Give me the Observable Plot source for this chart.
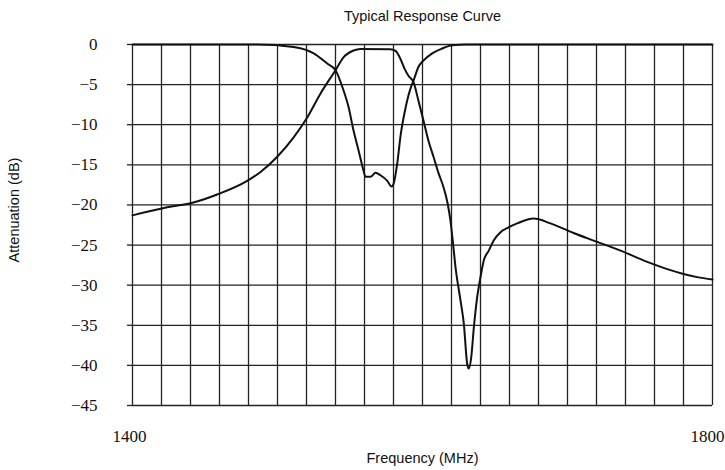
<!DOCTYPE html>
<html>
<head>
<meta charset="utf-8">
<script src="https://cdn.jsdelivr.net/npm/d3@7"></script>
<script src="https://cdn.jsdelivr.net/npm/@observablehq/plot@0.6"></script>
<style>
  html, body { margin: 0; padding: 0; background: #fff; }
</style>
</head>
<body>
<div id="chart"></div>
<script>
// Curve A: passes at 0 dB, notches around 1560–1580 MHz
const freqA = [1400, 1486, 1511, 1525, 1534.5, 1540, 1545.5, 1549, 1552.4, 1555.9, 1559.3, 1560.7, 1564.1, 1567.6, 1571, 1575.7, 1578.6, 1580, 1582.6, 1585.0, 1587.4, 1589.4, 1591.7, 1593.8, 1597.2, 1600.7, 1606.7, 1613.6, 1620.5, 1630, 1800];
const attA  = [0, 0, -0.3, -1.1, -2.4, -3.2, -5.7, -7.8, -10.7, -13.2, -15.7, -16.5, -16.5, -16.0, -16.3, -17.0, -17.7, -17.4, -14.8, -11.2, -8.7, -7.0, -5.5, -4.5, -2.8, -2.0, -1.1, -0.5, -0.1, 0, 0];

// Curve B: bandpass around 1555–1580 MHz with notch near 1632 MHz
const freqB = [1400, 1423.9, 1442, 1458.4, 1479.1, 1488.3, 1499.8, 1511, 1520.5, 1529.7, 1540, 1545.5, 1552.4, 1557.2, 1577.9, 1581.4, 1584.8, 1587.6, 1590.3, 1593.8, 1597.2, 1600.7, 1604.1, 1607.6, 1611.0, 1614.5, 1617.2, 1619.3, 1620.7, 1622.8, 1626.2, 1628.5, 1630.8, 1631.9, 1633.6, 1635.4, 1637.7, 1640, 1642.3, 1645.7, 1649.2, 1653.8, 1659.3, 1665.3, 1676.6, 1688.3, 1704.1, 1720.5, 1736.6, 1755, 1768.8, 1780, 1789.4, 1800];
const attB  = [-21.3, -20.3, -19.7, -18.7, -17.0, -15.9, -14.0, -11.6, -9.1, -6.1, -3.2, -1.6, -0.75, -0.55, -0.6, -0.8, -1.8, -3.0, -3.9, -4.7, -7.0, -9.5, -12.0, -14.0, -16.0, -17.8, -19.7, -22.0, -24.2, -27.8, -31.9, -34.8, -39.8, -40.4, -39.0, -35.3, -31.5, -29.0, -26.9, -25.7, -24.4, -23.4, -22.8, -22.3, -21.7, -22.3, -23.5, -24.6, -25.7, -27.1, -28.0, -28.6, -29.0, -29.3];

const yTicks = [0, -5, -10, -15, -20, -25, -30, -35, -40, -45];
const xTickLabels = [1400, 1800];
const xGrid = [1400, 1420, 1440, 1460, 1480, 1500, 1520, 1540, 1560, 1580, 1600, 1620, 1640, 1660, 1680, 1700, 1720, 1740, 1760, 1780, 1800];

const title = "Typical Response Curve";
const xLabel = "Frequency (MHz)";
const yLabel = "Attenuation (dB)";

const dataA = freqA.map((f, i) => ({f, a: attA[i]}));
const dataB = freqB.map((f, i) => ({f, a: attB[i]}));

const ink = "#111";
const sans = "Liberation Sans, Arial, sans-serif";
const serif = "Liberation Serif, Times New Roman, serif";

const chart = Plot.plot({
  width: 725,
  height: 470,
  marginLeft: 132,
  marginRight: 13,
  marginTop: 44,
  marginBottom: 65,
  x: {domain: [1400, 1800], axis: null},
  y: {domain: [-45, 0]},
  style: {fontFamily: serif, fontSize: "17px", color: ink, background: "#fff"},
  marks: [
    Plot.ruleX(xGrid, {stroke: "#222", strokeWidth: 1.3, strokeOpacity: 1}),
    Plot.ruleY(yTicks, {stroke: "#222", strokeWidth: 1.3, strokeOpacity: 1}),
    Plot.axisY({ticks: yTicks, tickSize: 5, tickPadding: 30, tickFormat: d => d === 0 ? "0" : "\u2212" + (-d), label: null, stroke: "#222", strokeWidth: 1.3, fontSize: 17, fontFamily: serif}),
    Plot.text(xTickLabels.slice(0, 1), {x: d => d, frameAnchor: "bottom", dy: 31, dx: -3, lineAnchor: "middle", textAnchor: "middle", text: d => String(d), fontFamily: serif, fontSize: 17, fill: ink}),
    Plot.text(xTickLabels.slice(1), {x: d => d, frameAnchor: "bottom", dy: 31, dx: 12, lineAnchor: "middle", textAnchor: "end", text: d => String(d), fontFamily: serif, fontSize: 17, fill: ink}),
    Plot.line(dataA, {x: "f", y: "a", stroke: ink, strokeWidth: 2, curve: "monotone-x"}),
    Plot.line(dataB, {x: "f", y: "a", stroke: ink, strokeWidth: 2, curve: "monotone-x"}),
    Plot.text([title], {frameAnchor: "top", dy: -28, lineAnchor: "middle", text: d => d, fontFamily: sans, fontSize: 14.5, fill: ink}),
    Plot.text([xLabel], {frameAnchor: "bottom", dy: 53, lineAnchor: "middle", text: d => d, fontFamily: sans, fontSize: 14.5, fill: ink}),
    Plot.text([yLabel], {frameAnchor: "left", dx: -118, dy: -15, rotate: -90, lineAnchor: "middle", textAnchor: "middle", text: d => d, fontFamily: sans, fontSize: 14.5, fill: ink})
  ]
});

document.getElementById("chart").appendChild(chart);
</script>
</body>
</html>
